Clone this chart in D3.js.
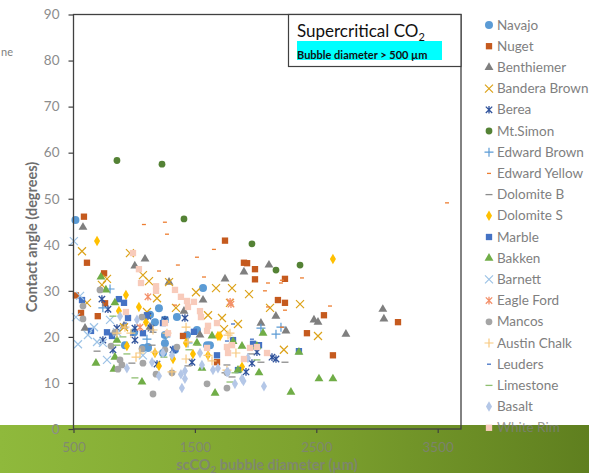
<!DOCTYPE html>
<html>
<head>
<meta charset="utf-8">
<script src="https://cdn.jsdelivr.net/npm/d3@7"></script>
<style>
  html, body { margin: 0; padding: 0; background: #fff; overflow: hidden; }
  text { font-family: Lato, "Open Sans", sans-serif; }
</style>
</head>
<body>
<div id="chart"></div>
<script>
const xTicks = [500, 1500, 2500, 3500];
const yTicks = [0, 10, 20, 30, 40, 50, 60, 70, 80, 90];

// values, [bubble diameter, contact angle]
const navajo = [[516,45.4],[1567,30.6],[1204,26.2],[1171,23.2],[1352,24.3],[1253,23.7],[1253,20.4],[1113,17.8],[1517,21.5],[1435,20.4],[1600,18.2],[1113,17.6],[1253,18.6],[924,18.2],[1072,17.6],[1336,17.2],[1237,16.5],[1624,18.2],[1000,21],[1130,24.8]];
const nuget = [[586,46.1],[1748,40.9],[611,36.1],[752,33.8],[520,29],[760,27.3],[562,25.2],[700,24.5],[1402,20.2],[1904,36.1],[1930,36],[1995,34.7],[1995,32.5],[2242,32.6],[2184,28],[2242,27.4],[2563,24.7],[2423,20.8],[2637,16],[3173,23.2],[1682,14.5]];
const benthiemer = [[578,43.8],[1089,36.9],[1005,35.4],[1287,31.9],[1748,32.6],[1567,28],[1410,25.6],[595,21.9],[916,22.4],[1130,22.1],[1542,20.4],[2110,35.6],[1904,34.1],[2167,24.5],[2481,23.7],[2514,23.2],[2044,23],[2250,21.3],[2744,20.6],[3048,26],[3057,23.9]];
const banderaBrown = [[570,38.6],[965,38.2],[1072,33.4],[1122,32.1],[776,32.6],[734,31.3],[1287,31.9],[1188,28.4],[611,27.4],[1509,29.7],[1674,30.6],[1105,25.4],[1344,26.3],[1608,24.7],[1723,24.1],[1740,21.7],[916,22.1],[1806,30.6],[1946,29.3],[1789,27.4],[2366,27.1],[2119,26.3],[1855,22.8],[2514,20.2],[2233,17.2]];
const berea = [[734,28.2],[784,26],[742,19.3],[1113,24.5],[1418,24.1],[1253,23.7],[1006,21.9],[858,21.9],[1138,21.9],[825,17.2],[1188,14.1],[1476,14.5],[1006,19.3],[1320,17.2],[2135,15.6],[2168,15.2],[1970,14.3],[1921,12.4],[2011,16.7]];
const mtSimon = [[858,58.3],[1229,57.5],[1410,45.6],[1970,40.2],[2366,35.6],[2168,34.5]];
const edwardBrown = [[801,30.4],[742,26.3],[1105,19.5],[1261,20],[2044,21.9],[2209,22.1],[2168,20.6],[1443,18.7]];
const edwardYellow = [[1080,44.4],[1253,44.9],[1270,42.3],[1517,37.3],[1657,39],[1360,35.6],[1204,34.3],[1575,33],[1336,26.9],[2102,31.7],[2209,31.7],[2217,32.3],[2077,30],[2382,32.8],[2613,26.7],[2242,25.8],[2102,26.5],[2217,22.1],[3577,49.1]];
const dolomiteB = [[694,16.9],[981,14.3],[1147,18.2],[1443,13.7],[1748,12.2],[2242,14.5],[2044,14.5],[1962,16.3],[1764,13.9],[1806,11.3],[825,20.8],[1155,21]];
const dolomiteS = [[694,40.8],[932,29.1],[1039,26.5],[874,25.6],[1097,23.2],[1690,20.2],[1427,18.7],[940,18],[1171,16.5],[1204,13.7],[1320,15.2],[1484,16.3],[1608,16],[1888,13.5],[2637,36.9],[1707,20.2]];
const marble = [[570,28],[874,28.2],[916,27.4],[949,24.1],[644,21.3],[817,20.2],[1072,20.8],[1492,21.1],[1105,24.7],[776,21],[1237,23],[1336,17.4],[1979,18.5],[1814,19.3],[2028,18.2],[2357,16.9],[1855,12.8],[1682,16]];
const bakken = [[726,33],[767,30.2],[841,27.4],[858,19.3],[1641,20.2],[1517,18.7],[685,14.3],[833,13],[841,15.6],[1064,10.2],[1666,7.8],[1558,13.2],[2291,8],[2522,10.9],[2637,10.9],[2028,12.2],[1888,18],[2357,16.7],[1855,12.8],[2011,18],[2061,20.8],[1814,19]];
const barnett = [[503,40.8],[554,28.9],[520,24.3],[669,22.1],[619,20.4],[537,18.4],[694,18.9],[742,18.7],[801,23.7],[776,15],[858,21],[1072,16]];
const eagleFord = [[1113,28.7],[1048,22.1],[1797,27.1],[1790,27.6]];
const mancos = [[718,30.2],[578,26.7],[578,23.9],[1064,24.3],[841,21],[809,18],[883,15],[899,13.9],[866,13],[1072,14.3],[1064,17.4],[1352,17.8],[1180,11.9],[1311,12.2],[1600,9.8],[1155,7.6],[1764,8.9],[1253,17.2],[1764,12.2]];
const austinChalk = [[924,22.1],[858,20.8],[973,20.8],[1155,21.5],[1270,20.8],[1427,22.1],[1773,20.4],[1048,16.5],[1015,15.6],[1427,15.2],[1311,12.4],[1608,16],[1641,14.8],[1443,18.9],[1171,16.7],[1789,20.8],[1838,16.5],[1764,12.8]];
const leuders = [[1814,22.8],[1970,19.5],[1764,19.1],[981,20.4],[924,23]];
const limestone = [[825,24.5],[907,20],[858,18.2],[940,16.3],[1006,11.1],[1245,15.6],[1451,17.2],[1525,18.2],[1789,10.2],[1830,12.2],[2011,15]];
const basalt = [[883,24.5],[1023,23.7],[940,13.2],[1204,11.5],[1393,8.9],[1418,10.9],[1418,12.6],[1385,11.9],[1147,14.5],[1237,16.5],[1311,16],[1542,16.5],[1558,13.9],[1649,12.8],[1690,13.2],[1773,12.4],[2069,9.3],[1830,9.8],[1888,10.9],[1764,12.4],[1937,15.4],[1900,10.4]];
const whiteRim = [[990,38.2],[1039,34.7],[1056,31.7],[1180,31],[1180,30],[1336,30.2],[1385,28.7],[1435,27.8],[1443,26.5],[1492,27.6],[1542,25.6],[1550,24.3],[1608,22.4],[1600,21.3],[1682,23],[932,25.4],[1253,23],[1278,20.8],[1764,17.8],[1600,17.6],[1806,18.2],[1954,17.6],[2011,17.8],[1904,15.2],[2094,16.5],[1773,16.5]];

const seriesNames = ["Navajo","Nuget","Benthiemer","Bandera Brown","Berea","Mt.Simon","Edward Brown","Edward Yellow","Dolomite B","Dolomite S","Marble","Bakken","Barnett","Eagle Ford","Mancos","Austin Chalk","Leuders","Limestone","Basalt","White Rim"];
const seriesValues = [navajo,nuget,benthiemer,banderaBrown,berea,mtSimon,edwardBrown,edwardYellow,dolomiteB,dolomiteS,marble,bakken,barnett,eagleFord,mancos,austinChalk,leuders,limestone,basalt,whiteRim];
const seriesColors = ["#5b9bd5","#c55a1e","#7f7f7f","#dca218","#30539c","#548235","#5b9bd5","#ed7d31","#8c8c8c","#ffc000","#4472c4","#70ad47","#9dc3e6","#f4906a","#a5a5a5","#f8c97f","#4472c4","#8fbf70","#b4c7e7","#f8cbbb"];
const seriesMarks = ["circle","square","triangle","x","star","circle5","plus","dash","dash2","diamond","square","triangle","x","star","circle5","plus","dash","dash2","diamond","square"];

const WIDTH = 589;
const HEIGHT = 473;
const MARGIN = { TOP: 14.5, RIGHT: 128, BOTTOM: 44, LEFT: 73.5 };
const BAND_TOP = 425;

let svg = d3
  .select("#chart")
  .append("svg")
  .attr("width", WIDTH)
  .attr("height", HEIGHT)
  .style("display", "block");

let defs = svg.append("defs");
let grad = defs.append("linearGradient").attr("id", "band");
grad.append("stop").attr("offset", "0%").attr("stop-color", "#8fb93c");
grad.append("stop").attr("offset", "50%").attr("stop-color", "#7ea32f");
grad.append("stop").attr("offset", "100%").attr("stop-color", "#5f7f1f");

svg
  .append("rect")
  .attr("y", BAND_TOP)
  .attr("width", WIDTH)
  .attr("height", HEIGHT - BAND_TOP)
  .attr("fill", "url(#band)");

const x = d3
  .scaleLinear()
  .domain([500, 3692])
  .range([MARGIN.LEFT, WIDTH - MARGIN.RIGHT]);
const y = d3
  .scaleLinear()
  .domain([0, 90])
  .range([HEIGHT - MARGIN.BOTTOM, MARGIN.TOP]);

// stray word cut off at the page edge
svg
  .append("text")
  .attr("x", 13)
  .attr("y", 56)
  .attr("text-anchor", "end")
  .style("font-size", "11px")
  .style("fill", "#7f7f7f")
  .text("ne");

// MARKS
function drawMark(g, mark, color) {
  const sym = (type, size) =>
    g.append("path").attr("d", d3.symbol().type(type).size(size)()).style("fill", color);
  const lines = (segs, w) =>
    g.append("path").attr("d", segs).style("fill", "none").style("stroke", color).style("stroke-width", w);
  if (mark === "circle") sym(d3.symbolCircle, 50);
  if (mark === "circle5") sym(d3.symbolCircle, 36);
  if (mark === "square") sym(d3.symbolSquare, 40);
  if (mark === "triangle") sym(d3.symbolTriangle, 34);
  if (mark === "diamond") sym(d3.symbolDiamond, 32);
  if (mark === "x") lines("M-4,-4L4,4M-4,4L4,-4", 1.2);
  if (mark === "plus") lines("M-4.5,0L4.5,0M0,-4.5L0,4.5", 1.2);
  if (mark === "star") lines("M-3.2,-3.2L3.2,3.2M-3.2,3.2L3.2,-3.2M0,-3.8L0,3.8", 1.3);
  if (mark === "dash") lines("M-2,0L2,0", 1.3);
  if (mark === "dash2") lines("M-3.5,0L3.5,0", 1.3);
}

seriesValues.forEach((values, i) => {
  svg
    .append("g")
    .selectAll("g")
    .data(values)
    .enter()
    .append("g")
    .attr("transform", (d) => `translate(${x(d[0])}, ${y(d[1])})`)
    .each(function () {
      drawMark(d3.select(this), seriesMarks[i], seriesColors[i]);
    });
});

// AXES
svg
  .append("rect")
  .attr("x", MARGIN.LEFT)
  .attr("y", MARGIN.TOP)
  .attr("width", WIDTH - MARGIN.RIGHT - MARGIN.LEFT)
  .attr("height", HEIGHT - MARGIN.BOTTOM - MARGIN.TOP)
  .style("fill", "none")
  .style("stroke", "#404040")
  .style("stroke-width", "1.3px");

const xAxis = svg
  .append("g")
  .attr("transform", `translate(0, ${HEIGHT - MARGIN.BOTTOM})`)
  .call(d3.axisBottom(x).tickValues(xTicks).tickSize(4).tickPadding(9).tickFormat(d3.format("d")))
  .call((g) => g.select(".domain").remove());
xAxis.selectAll("line").style("stroke", "#404040").style("stroke-width", "1.2px");
xAxis.selectAll("text").style("font-size", "13.5px").style("fill", "#7f7f7f").style("fill-opacity", 0.8);

const yAxis = svg
  .append("g")
  .attr("transform", `translate(${MARGIN.LEFT}, 0)`)
  .call(d3.axisLeft(y).tickValues(yTicks).tickSize(5).tickPadding(9))
  .call((g) => g.select(".domain").remove());
yAxis.selectAll("line").style("stroke", "#404040").style("stroke-width", "1.2px");
yAxis.selectAll("text").style("font-size", "13.5px").style("fill", "#8c8c8c");

svg
  .append("text")
  .attr("transform", "translate(37, 237) rotate(-90)")
  .attr("text-anchor", "middle")
  .style("font-size", "14.5px")
  .style("font-weight", "700")
  .style("fill", "#6e6e6e")
  .text("Contact angle (degrees)");

let xTitle = svg
  .append("text")
  .attr("x", 267)
  .attr("y", 470)
  .attr("text-anchor", "middle")
  .style("font-size", "14.5px")
  .style("font-weight", "700")
  .style("fill", "#7f7f7f")
  .style("fill-opacity", 0.8)
  .text("scCO");
xTitle.append("tspan").attr("dy", 3).style("font-size", "10px").text("2");
xTitle.append("tspan").attr("dy", -3).text(" bubble diameter (µm)");

// LEGEND
const legend = svg
  .selectAll(".legend")
  .data(seriesNames)
  .enter()
  .append("g")
  .attr("class", "legend")
  .attr("transform", (d, i) => `translate(489, ${25 + i * 21.2})`);
legend.each(function (d, i) {
  drawMark(d3.select(this), seriesMarks[i], seriesColors[i]);
});
legend
  .append("text")
  .attr("x", 8)
  .attr("y", 4.5)
  .style("font-size", "13.5px")
  .style("fill", "#7f7f7f")
  .style("fill-opacity", (d) => (d === "White Rim" ? 0.8 : 1))
  .text((d) => d);

// NOTE BOX
const note = svg.append("g");
note
  .append("rect")
  .attr("x", 288.5)
  .attr("y", 14.5)
  .attr("width", 172.5)
  .attr("height", 52)
  .style("fill", "#fff")
  .style("stroke", "#404040")
  .style("stroke-width", "1.2px");
note
  .append("rect")
  .attr("x", 297)
  .attr("y", 41)
  .attr("width", 145)
  .attr("height", 19)
  .style("fill", "#00ffff");
let noteTitle = note
  .append("text")
  .attr("x", 297)
  .attr("y", 37)
  .style("font-size", "17px")
  .style("fill", "#111")
  .text("Supercritical CO");
noteTitle.append("tspan").attr("dy", 4).style("font-size", "11px").text("2");
note
  .append("text")
  .attr("x", 297)
  .attr("y", 59)
  .style("font-size", "11px")
  .style("font-weight", "700")
  .style("fill", "#111")
  .text("Bubble diameter > 500 µm");
</script>
</body>
</html>
